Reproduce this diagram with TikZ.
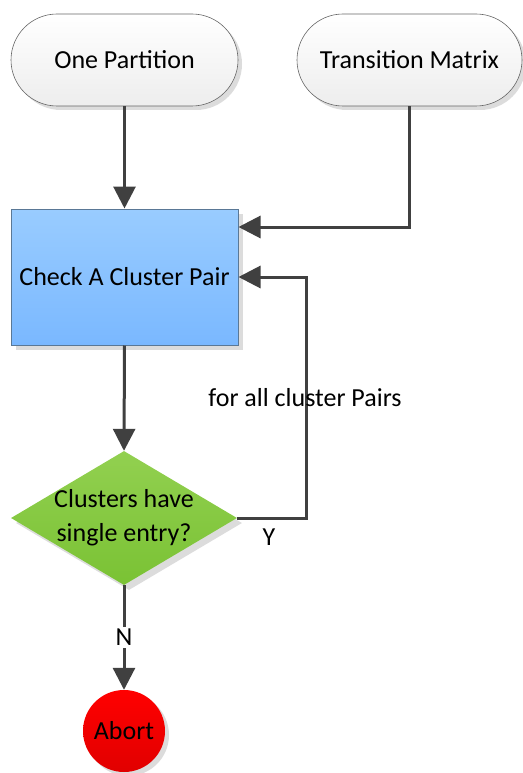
\documentclass[tikz,border=0pt]{standalone}
\usepackage{fontspec}
\setmainfont{Carlito}
\usetikzlibrary{shapes.geometric,shapes.misc,arrows.meta,shadows}
\definecolor{linegray}{HTML}{404040}
\definecolor{shadowgray}{HTML}{DCDCDC}
\definecolor{boxedge}{HTML}{5A7896}
\tikzset{
  txt/.style={font=\fontsize{26}{34}\selectfont},
  flow/.style={draw=linegray, line width=3pt, -{Triangle[length=22pt,width=22pt]}},
  termbox/.style={rounded rectangle, draw=black!60, line width=0.6pt,
    minimum width=227pt, minimum height=92pt, inner sep=0pt,
    top color=white, bottom color=black!7,
    drop shadow={shadow xshift=4pt, shadow yshift=-4pt, fill=shadowgray, opacity=1},
    txt},
  procbox/.style={rectangle, draw=boxedge, line width=1pt,
    minimum width=227pt, minimum height=136pt, inner sep=0pt,
    top color={rgb,255:red,153;green,204;blue,255}, bottom color={rgb,255:red,122;green,184;blue,255},
    drop shadow={shadow xshift=5pt, shadow yshift=-5pt, fill=shadowgray, opacity=1},
    txt},
  decbox/.style={diamond, aspect=1.69, inner sep=-10pt,
    minimum width=226pt, minimum height=134pt,
    top color={rgb,255:red,146;green,208;blue,80}, bottom color={rgb,255:red,122;green,194;blue,52},
    drop shadow={shadow xshift=5pt, shadow yshift=-5pt, fill=shadowgray, opacity=1},
    txt, align=center},
  stopbox/.style={circle, minimum size=82pt, inner sep=0pt,
    top color={rgb,255:red,255;green,0;blue,0}, bottom color={rgb,255:red,225;green,0;blue,0},
    drop shadow={shadow xshift=4pt, shadow yshift=-4pt, fill=shadowgray, opacity=1},
    txt},
  lbl/.style={txt, inner sep=2pt}
}
\begin{document}
\begin{tikzpicture}[x=1pt,y=-1pt]
  \useasboundingbox (0,0) rectangle (522,773);
  \node[termbox] (part) at (124.5,60) {One Partition};
  \node[termbox, minimum width=225pt] (tmat) at (409.5,60) {Transition Matrix};
  \node[procbox] (check) at (124.5,277) {Check A Cluster Pair};
  \node[decbox] (dec) at (124,518) {Clusters have\\single entry?};
  \node[stopbox] (abort) at (124,731) {Abort};

  \coordinate (tin) at (check.east |- 0,227);
  \coordinate (lin) at (check.east |- 0,277);

  \draw[flow] (part.south) -- (check.north);
  \draw[flow] (tmat.south) |- (tin);
  \draw[flow] (check.south) -- (dec.north);
  \draw[flow] (dec.east) -- (306,518) |- (lin);
  \draw[flow] (dec.south) -- node[lbl, fill=white, pos=0.5] {N} (abort.north);

  \node[lbl] (forall) at (305,398) {for all cluster Pairs};
  \node[lbl] (yes) at (269,537) {Y};
\end{tikzpicture}
\end{document}
